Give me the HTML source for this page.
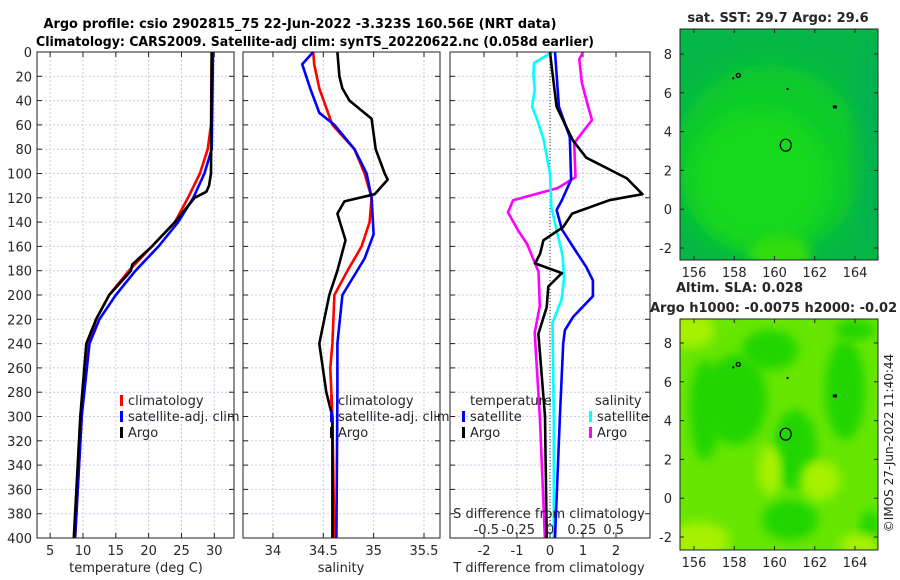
<!DOCTYPE html>
<html><head><meta charset="utf-8"><style>
html,body{margin:0;padding:0;background:#fff;}
svg{display:block;font-family:"DejaVu Sans","Liberation Sans",sans-serif;}
</style></head><body>
<svg id="fig" width="900" height="580" viewBox="0 0 900 580" xmlns="http://www.w3.org/2000/svg">
<defs>
<filter id="blur1" x="-20%" y="-20%" width="140%" height="140%"><feGaussianBlur stdDeviation="10"/></filter>
<filter id="blur2" x="-20%" y="-20%" width="140%" height="140%"><feGaussianBlur stdDeviation="5"/></filter>
<clipPath id="c1"><rect x="680" y="29" width="198" height="231"/></clipPath>
<clipPath id="c2"><rect x="680" y="319" width="198" height="231"/></clipPath>
</defs>
<text x="300" y="28" font-weight="bold" font-size="13" text-anchor="middle" textLength="513" lengthAdjust="spacingAndGlyphs">Argo profile: csio 2902815_75 22-Jun-2022 -3.323S 160.56E (NRT data)</text>
<text x="315" y="46" font-weight="bold" font-size="13" text-anchor="middle" textLength="558" lengthAdjust="spacingAndGlyphs">Climatology: CARS2009. Satellite-adj clim: synTS_20220622.nc (0.058d earlier)</text>
<g id="panels"></g>
<g id="maps"></g>
<text transform="translate(893,443) rotate(-90)" font-size="12" text-anchor="middle" fill="#222">©IMOS 27-Jun-2022 11:40:44</text>
</svg>
<script>
// ---- data ----
const depthTicks=[0,20,40,60,80,100,120,140,160,180,200,220,240,260,280,300,320,340,360,380,400];
const tempTicks=[5,10,15,20,25,30];
const salTicks=[34,34.5,35,35.5];
const dTTicks=[-2,-1,0,1,2];
const dSTickLabels=["-0.5","-0.25","0","0.25","0.5"];
const dSTicks=[-0.5,-0.25,0,0.25,0.5];

const tClimDepth=[0,60,80,100,120,140,160,180,200,220,240,260,300,400];
const tClim=[29.6,29.5,29,27.8,26,24,20.5,17,14,12,10.8,10.3,9.8,8.8];
const tSatDepth=[0,80,100,120,140,160,180,200,220,240,300,400];
const tSat=[29.8,29.6,28.5,26.8,24.5,21.5,18,15,12.5,11,9.8,8.8];
const tArgoDepth=[0,100,110,115,120,130,140,160,175,180,185,200,220,240,300,400];
const tArgo=[29.6,29.5,29.2,28.8,27,25.5,24,20.5,17.5,17.3,16.5,14,12,10.5,9.6,8.6];

const sClimDepth=[0,10,30,60,80,100,120,140,160,180,200,240,260,300,400];
const sClim=[34.4,34.41,34.46,34.59,34.81,34.91,34.98,34.96,34.88,34.74,34.61,34.59,34.57,34.59,34.61];
const sSatDepth=[0,10,30,50,60,80,100,120,150,170,200,240,280,400];
const sSat=[34.4,34.29,34.37,34.46,34.61,34.81,34.93,34.98,35.0,34.91,34.69,34.64,34.64,34.63];
const sArgoDepth=[0,20,30,40,55,80,100,105,117,123,133,155,180,200,220,240,280,300,400];
const sArgo=[34.64,34.66,34.69,34.76,34.98,35.02,35.11,35.14,35.01,34.71,34.64,34.72,34.64,34.56,34.51,34.46,34.53,34.59,34.59];

const dTSatDepth=[0,45,70,105,122,130,146,163,177,188,201,218,229,240,300,400];
const dTSat=[0.15,0.27,0.6,0.64,0.36,0.2,0.36,0.76,1.1,1.3,1.3,0.7,0.45,0.4,0.3,0.15];
const dTArgoDepth=[0,12,45,62,73,87,104,117,122,133,144,155,166,174,182,193,210,232,300,400];
const dTArgo=[0,0.05,0.2,0.5,0.7,1.1,2.33,2.8,1.8,0.67,0.4,-0.2,-0.3,-0.45,0.36,-0.05,-0.1,-0.35,-0.15,-0.1];
const dSSatDepth=[0,9,17.6,31,45,56,72,100,127,146,168,187,204,223,300,400];
const dSSat=[0.02,-0.125,-0.13,-0.12,-0.14,-0.1,-0.05,0,0.01,0.05,0.1,0.11,0.09,0.02,0.03,0.03];
const dSArgoDepth=[0,6,25,45,56,75,103,112,122,132,147,158,181,209,231,300,400];
const dSArgo=[0.26,0.23,0.25,0.3,0.33,0.19,0.2,0.06,-0.29,-0.33,-0.25,-0.18,-0.09,-0.08,-0.12,-0.08,-0.04];

const lonTicks=[156,158,160,162,164];
const latTicks=[-2,0,2,4,6,8];

// ---- helpers ----
const NS="http://www.w3.org/2000/svg";
const P=document.getElementById('panels');
function mk(tag,at,parent){const e=document.createElementNS(NS,tag);for(const k in at)e.setAttribute(k,at[k]);(parent||P).appendChild(e);return e;}
function txt(s,x,y,at,parent){const e=mk('text',Object.assign({x:x,y:y,'font-size':13,fill:'#262626'},at||{}),parent);e.textContent=s;return e;}
const Y0=52,Y1=538;
const yD=d=>Y0+(d/400)*(Y1-Y0);
function axisScale(x0,x1,v0,v1){return v=>x0+(v-v0)/(v1-v0)*(x1-x0);}

function panel(name,x0,x1,sx,xt,labelY){
  const g=mk('g',{});
  
  
  mk('rect',{x:x0,y:Y0,width:x1-x0,height:Y1-Y0,fill:'#fff'},g);
  depthTicks.forEach(d=>{
    if(d>0&&d<400){const l=mk('line',{x1:x0,x2:x1,y1:yD(d),y2:yD(d),stroke:'#c9cce8','stroke-dasharray':'2,2','stroke-width':1},g);
    }
    mk('line',{x1:x0,x2:x0+5,y1:yD(d),y2:yD(d),stroke:'#222'},g);
    mk('line',{x1:x1-5,x2:x1,y1:yD(d),y2:yD(d),stroke:'#222'},g);
    if(labelY){const t=txt(String(d),x0-5,yD(d)+5,{'text-anchor':'end'},g);
      }
  });
  xt.forEach(v=>{
    const x=sx(v);
    const l=mk('line',{x1:x,x2:x,y1:Y0,y2:Y1,stroke:'#c9cce8','stroke-dasharray':'2,2'},g);
    
    mk('line',{x1:x,x2:x,y1:Y0,y2:Y0+5,stroke:'#222'},g);
    mk('line',{x1:x,x2:x,y1:Y1-5,y2:Y1,stroke:'#222'},g);
  });
  return g;
}
function series(g,name,depths,vals,sx,color,w){
  const pts=depths.map((d,i)=>sx(vals[i]).toFixed(1)+','+yD(d).toFixed(1)).join(' ');
  const p=mk('polyline',{points:pts,fill:'none',stroke:color,'stroke-width':w||2.6,'stroke-linejoin':'round'},g);
  
  
}
function frame(g,x0,x1){mk('rect',{x:x0,y:Y0,width:x1-x0,height:Y1-Y0,fill:'none',stroke:'#222','stroke-width':1},g);}
function legendEntry(g,name,x,y,color,label){
  const e=mk('g',{},g);
  
  
  mk('rect',{x:x,y:y-10,width:3,height:11,fill:color},e);
  txt(label,x+8,y,{},e);
}

// Panel 1 temperature
const sT=axisScale(37,234,3,33);
const g1=panel('temperature-panel',37,234,sT,tempTicks,true);
series(g1,'temp-climatology-line',tClimDepth,tClim,sT,'#f00');
series(g1,'temp-satellite-line',tSatDepth,tSat,sT,'#00f');
series(g1,'temp-argo-line',tArgoDepth,tArgo,sT,'#000');
frame(g1,37,234);
tempTicks.forEach(v=>{const t=txt(String(v),sT(v),555,{'text-anchor':'middle'},g1);});
txt('temperature (deg C)',136,572,{'text-anchor':'middle',},g1);
legendEntry(g1,'legend-climatology',120,405,'#f00','climatology');
legendEntry(g1,'legend-satellite',120,421,'#00f','satellite-adj. clim');
legendEntry(g1,'legend-argo',120,437,'#000','Argo');

// Panel 2 salinity
const sS=axisScale(243,440,33.7025,35.659);
const g2=panel('salinity-panel',243,440,sS,salTicks,false);
series(g2,'sal-climatology-line',sClimDepth,sClim,sS,'#f00');
series(g2,'sal-satellite-line',sSatDepth,sSat,sS,'#00f');
series(g2,'sal-argo-line',sArgoDepth,sArgo,sS,'#000');
frame(g2,243,440);
salTicks.forEach(v=>{const t=txt(String(v),sS(v),555,{'text-anchor':'middle'},g2);});
txt('salinity',341,572,{'text-anchor':'middle',},g2);
legendEntry(g2,'legend-sal-climatology',330,405,'#f00','climatology');
legendEntry(g2,'legend-sal-satellite',330,421,'#00f','satellite-adj. clim');
legendEntry(g2,'legend-sal-argo',330,437,'#000','Argo');

// Panel 3 differences
const sDT=axisScale(450,650,-3.03,3.03);
const sDS=axisScale(450,650,-0.785,0.785);
const g3=panel('difference-panel',450,650,sDT,dTTicks,false);
const z=mk('line',{x1:sDT(0),x2:sDT(0),y1:Y0,y2:Y1,stroke:'#333','stroke-dasharray':'1,2'},g3);

series(g3,'dS-argo-line',dSArgoDepth,dSArgo,sDS,'#f0f');
series(g3,'dS-satellite-line',dSSatDepth,dSSat,sDS,'#0ff');
series(g3,'dT-satellite-line',dTSatDepth,dTSat,sDT,'#00f');
series(g3,'dT-argo-line',dTArgoDepth,dTArgo,sDT,'#000');
frame(g3,450,650);
dTTicks.forEach(v=>{const t=txt(String(v),sDT(v),555,{'text-anchor':'middle'},g3);});
txt('T difference from climatology',549,572,{'text-anchor':'middle',},g3);
txt('S difference from climatology',549,518,{'text-anchor':'middle',},g3);
dSTicks.forEach((v,i)=>{const t=txt(dSTickLabels[i],sDS(v),534,{'text-anchor':'middle'},g3);});
txt('temperature',470,405,{},g3);
txt('salinity',595,405,{},g3);
legendEntry(g3,'legend-dT-satellite',462,421,'#00f','satellite');
legendEntry(g3,'legend-dT-argo',462,437,'#000','Argo');
legendEntry(g3,'legend-dS-satellite',589,421,'#0ff','satellite');
legendEntry(g3,'legend-dS-argo',589,437,'#f0f','Argo');

// ---- maps ----
const M=document.getElementById('maps');
const mx=axisScale(694,855,156,164);
function mapAxes(g,y0,y1,yLat){
  mk('rect',{x:680,y:y0,width:198,height:y1-y0,fill:'none',stroke:'#222'},g);
  lonTicks.forEach(v=>{const x=mx(v);mk('line',{x1:x,x2:x,y1:y1,y2:y1-4,stroke:'#222'},g);mk('line',{x1:x,x2:x,y1:y0,y2:y0+4,stroke:'#222'},g);
    const t=txt(String(v),x,y1+17,{'text-anchor':'middle'},g);});
  latTicks.forEach(v=>{const y=yLat(v);mk('line',{x1:680,x2:684,y1:y,y2:y,stroke:'#222'},g);mk('line',{x1:874,x2:878,y1:y,y2:y,stroke:'#222'},g);
    const t=txt(String(v),672,y+5,{'text-anchor':'end'},g);});
}
function marks(g,yLat){
  mk('ellipse',{cx:mx(160.56),cy:yLat(3.3),rx:5.5,ry:6,fill:'none',stroke:'#000','stroke-width':1.2},g);
  mk('circle',{cx:mx(158.2),cy:yLat(6.9),r:2,fill:'none',stroke:'#000','stroke-width':1.3},g);
  mk('rect',{x:mx(162.9),y:yLat(5.35),width:4,height:3,fill:'#000'},g);
  mk('rect',{x:mx(157.9),y:yLat(6.8),width:2,height:2,fill:'#000'},g);
  mk('rect',{x:mx(160.6),y:yLat(6.25),width:2,height:2,fill:'#000'},g);
}
// map 1 SST
const my1=axisScale(248,54,-2,8);
const m1=mk('g',{},M);
const m1c=mk('g',{'clip-path':'url(#c1)'},m1);
mk('rect',{x:680,y:29,width:198,height:231,fill:'#05b845'},m1c);
mk('ellipse',{cx:770,cy:160,rx:95,ry:95,fill:'#0ccb2c',filter:'url(#blur1)'},m1c);
mk('ellipse',{cx:760,cy:180,rx:70,ry:70,fill:'#12d81c',filter:'url(#blur1)'},m1c);
mk('ellipse',{cx:780,cy:255,rx:30,ry:20,fill:'#30dc10',filter:'url(#blur2)'},m1c);
mk('ellipse',{cx:875,cy:140,rx:20,ry:110,fill:'#08ad58','fill-opacity':0.6,filter:'url(#blur1)'},m1c);
marks(m1,my1);
mapAxes(m1,29,260,my1);
txt('sat. SST: 29.7 Argo: 29.6',778,22,{'text-anchor':'middle','font-weight':'bold',},m1);
txt('Altim. SLA: 0.028',676,292,{'font-weight':'bold',},m1);
// map 2 SLA
const my2=axisScale(537,343,-2,8);
const m2=mk('g',{},M);
const m2c=mk('g',{'clip-path':'url(#c2)'},m2);
mk('rect',{x:680,y:319,width:198,height:231,fill:'#66e600'},m2c);
[[735,400,32,45],[770,350,28,20],[795,450,22,40],[845,390,20,50],[790,520,28,20],[705,410,15,50],[870,530,10,20],[855,330,20,10]].forEach(b=>{
  mk('ellipse',{cx:b[0],cy:b[1],rx:b[2],ry:b[3],fill:'#22d500',filter:'url(#blur2)'},m2c);});
[[690,330,25,18],[700,540,30,18],[860,545,20,12],[820,480,20,20],[770,470,12,25]].forEach(b=>{
  mk('ellipse',{cx:b[0],cy:b[1],rx:b[2],ry:b[3],fill:'#a6f000',filter:'url(#blur2)'},m2c);});
marks(m2,my2);
mapAxes(m2,319,550,my2);
txt('Argo h1000: -0.0075 h2000: -0.02',650,312,{'font-weight':'bold',},m2);
</script>
</body></html>
